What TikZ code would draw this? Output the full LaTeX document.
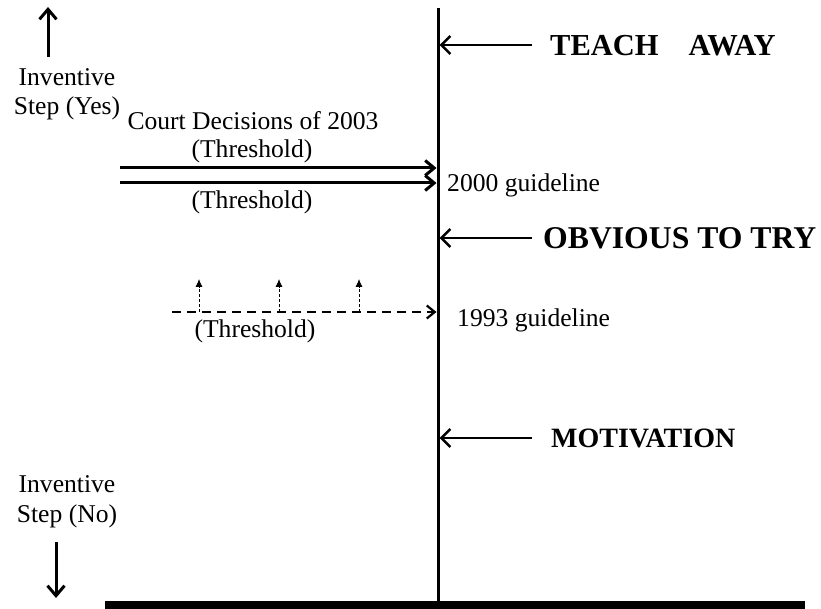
\documentclass[tikz,border=0pt]{standalone}
\usepackage{fontspec}
\setmainfont{Liberation Serif}
\usetikzlibrary{arrows.meta}
\begin{document}
\begin{tikzpicture}[x=1pt,y=-1pt,
  lbl/.style={font=\fontsize{25.6}{29}\selectfont, inner sep=0pt},
  bigA/.style={inner sep=0pt, font=\bfseries\fontsize{31.7}{36}\selectfont},
  bigB/.style={inner sep=0pt, font=\bfseries\fontsize{30.5}{34}\selectfont},
  bigC/.style={inner sep=0pt, font=\bfseries\fontsize{28}{32}\selectfont},
  pointer/.style={line width=2.5pt, -{Straight Barb[length=9pt,width=18pt]}},
  thr/.style={line width=3pt, -{Straight Barb[length=9pt,width=15pt]}},
  dir/.style={line width=3pt, -{Straight Barb[length=10pt,width=17pt]}},
  dashline/.style={line width=2.2pt, dash pattern=on 9pt off 6pt, -{Straight Barb[length=8pt,width=13pt]}},
  small/.style={line width=0.8pt, dash pattern=on 3pt off 2pt, -{Latex[length=8pt,width=7pt]}}]
\useasboundingbox (0,0) rectangle (821,609);

% main axis
\coordinate (vtop) at (438,8);
\coordinate (vbot) at (438,602);
\draw[line width=3pt] (vtop) -- (vbot);
\fill (105,601) rectangle (805,609);

% left direction labels
\node[lbl, anchor=base] (yes1) at (67,86) {Inventive};
\node[lbl, anchor=base] (yes2) at (67,115) {Step (Yes)};
\coordinate (upA) at (48,57);
\coordinate (upB) at (48,7);
\draw[dir] (upA) -- (upB);

\node[lbl, anchor=base] (no1) at (67,492) {Inventive};
\node[lbl, anchor=base] (no2) at (67,522) {Step (No)};
\coordinate (dnA) at (56,542);
\coordinate (dnB) at (56,598);
\draw[dir] (dnA) -- (dnB);

% right labels
\node[bigB, anchor=base west] (teach) at (550,56) {TEACH\hspace{30pt}AWAY};
\coordinate (teachS) at (532,45);
\coordinate (teachE) at (439.5,45);
\draw[pointer] (teachS) -- (teachE);

\node[bigA, anchor=base west] (obv) at (543,249) {OBVIOUS TO TRY};
\coordinate (obvS) at (532,238);
\coordinate (obvE) at (439.5,238);
\draw[pointer] (obvS) -- (obvE);

\node[bigC, anchor=base west] (mot) at (551,447) {MOTIVATION};
\coordinate (motS) at (532,438);
\coordinate (motE) at (439.5,438);
\draw[pointer] (motS) -- (motE);

% 2000 guideline
\node[lbl, anchor=base] (court) at (253,130) {Court Decisions of 2003};
\node[lbl, anchor=base] (thr1) at (252,158) {(Threshold)};
\node[lbl, anchor=base] (thr2) at (252,209) {(Threshold)};
\coordinate (l1a) at (120,168);
\coordinate (l1b) at (436.5,168);
\coordinate (l2a) at (120,183);
\coordinate (l2b) at (436.5,183);
\draw[thr] (l1a) -- (l1b);
\draw[thr] (l2a) -- (l2b);
\node[lbl, anchor=base west] (g2000) at (447,192) {2000 guideline};

% 1993 guideline
\coordinate (d1) at (172,312);
\coordinate (d2) at (436.5,312);
\draw[dashline] (d1) -- (d2);
\node[lbl, anchor=base west] (g1993) at (457,326) {1993 guideline};
\node[lbl, anchor=base] (thr3) at (255,337) {(Threshold)};
\foreach \i/\x in {1/199,2/279,3/359}{
  \coordinate (sa\i) at (\x,312);
  \coordinate (sb\i) at (\x,279);
  \draw[small] (sa\i) -- (sb\i);
}
\end{tikzpicture}
\end{document}
